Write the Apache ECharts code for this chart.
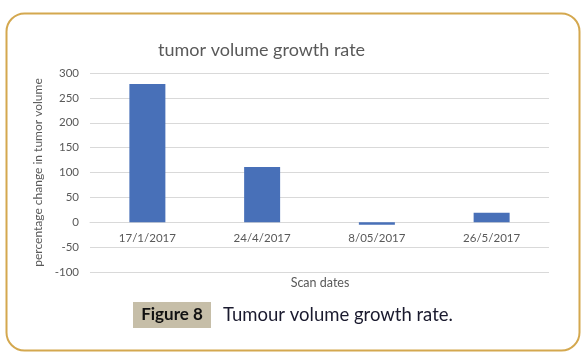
<!DOCTYPE html>
<html><head><meta charset="utf-8">
<script src="https://cdn.jsdelivr.net/npm/echarts@6/dist/echarts.min.js"></script>
<style>html,body{margin:0;padding:0;background:#fff}#c{width:586px;height:363px}</style>
</head><body><div id="c"></div>
<script>
const categories = ['17/1/2017', '24/4/2017', '8/05/2017', '26/5/2017'];
const values = [278, 111, -5, 19];
const yTicks = { min: -100, max: 300, interval: 50 };
const titleText = 'tumor volume growth rate';
const yName = 'percentage change in tumor volume';
const xName = 'Scan dates';
const figLabel = 'Figure 8';
const caption = 'Tumour volume growth rate.';

const chart = echarts.init(document.getElementById('c'), null, {renderer: 'canvas'});
const F = 'Lato, "Open Sans", sans-serif';
chart.setOption({
  animation: false,
  title: { text: titleText, left: 153, top: 36, textStyle: { fontFamily: F, fontSize: 18, fontWeight: 'normal', color: '#595959' } },
  grid: { left: 90, right: 37, top: 73, bottom: 91 },
  xAxis: {
    type: 'category', data: categories,
    offset: -50,
    axisLine: { onZero: false, lineStyle: { color: '#d9d9d9' } },
    axisTick: { show: false },
    axisLabel: { fontFamily: F, fontSize: 11.5, color: '#595959', margin: 10 }
  },
  yAxis: {
    type: 'value', min: yTicks.min, max: yTicks.max, interval: yTicks.interval,
    name: yName, nameLocation: 'middle', nameGap: 45, nameRotate: 90,
    nameTextStyle: { fontFamily: F, fontSize: 12, color: '#595959' },
    axisLine: { show: false }, axisTick: { show: false },
    axisLabel: { fontFamily: F, fontSize: 11.5, color: '#595959', margin: 11 },
    splitLine: { lineStyle: { color: '#d9d9d9' } }
  },
  series: [{ type: 'bar', data: values, barWidth: 36, itemStyle: { color: '#4870b8' } }],
  graphic: [
    { type: 'rect', shape: { x: 6.5, y: 13.5, width: 573, height: 337, r: 18 }, style: { fill: 'none', stroke: '#d4a84f', lineWidth: 2 }, z: -1 },
    { type: 'text', x: 320, y: 283, style: { text: xName, font: '12.5px ' + F, fill: '#595959', align: 'center', verticalAlign: 'middle' } },
    { type: 'rect', shape: { x: 133, y: 302, width: 78, height: 26 }, style: { fill: '#c6bea8' } },
    { type: 'text', x: 172, y: 315, style: { text: figLabel, font: 'bold 17px ' + F, fill: '#111', align: 'center', verticalAlign: 'middle' } },
    { type: 'text', x: 223, y: 315, style: { text: caption, font: '18.5px ' + F, fill: '#1a1a2e', verticalAlign: 'middle' } }
  ]
});
</script></body></html>
